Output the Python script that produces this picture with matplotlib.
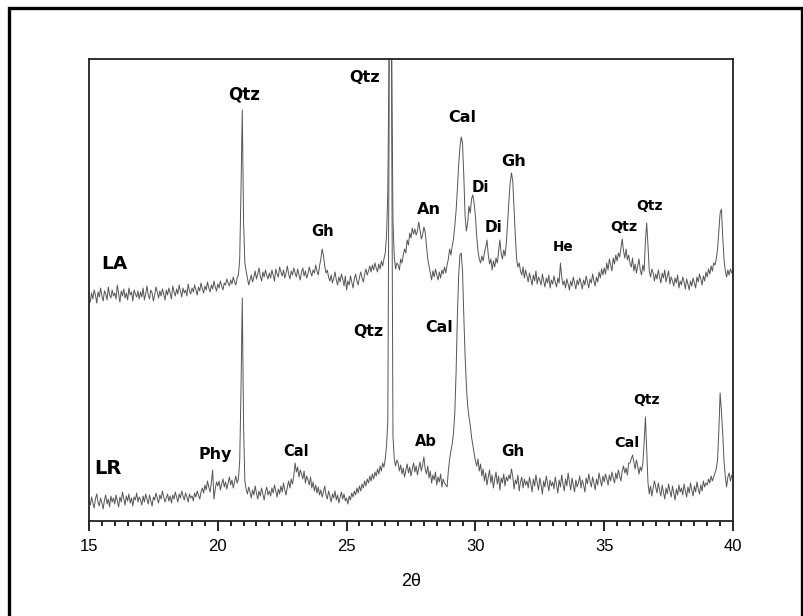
import numpy as np
import matplotlib
matplotlib.use("Agg")
import matplotlib.pyplot as plt
from matplotlib.patches import Rectangle
from matplotlib.ticker import MultipleLocator

# ---- data (2theta grid, 0.05 deg step, intensities in arbitrary units) ----
two_theta = np.round(np.arange(15.0, 40.0001, 0.05), 2)

la_counts = [
    224, 219, 228, 222, 231, 226, 218, 229, 224, 233, 225, 220, 230, 227, 221, 234, 226, 223, 231, 225,
    228, 222, 236, 227, 219, 230, 225, 232, 223, 228, 221, 233, 226, 229, 220, 231, 227, 224, 230, 222,
    229, 224, 233, 221, 227, 235, 226, 222, 231, 228, 220, 226, 234, 229, 223, 230, 225, 232, 227, 221,
    231, 226, 233, 228, 222, 235, 229, 225, 232, 227, 236, 230, 224, 233, 228, 231, 225, 237, 230, 227,
    233, 229, 236, 231, 226, 234, 230, 238, 232, 228, 235, 231, 239, 233, 229, 236, 232, 240, 234, 230,
    237, 233, 240, 235, 231, 238, 236, 242, 238, 235, 241, 237, 244, 239, 236, 243, 246, 262, 330, 411,
    300, 258, 250, 243, 236, 241, 246, 239, 244, 250, 242, 247, 253, 245, 240, 249, 244, 251, 246, 242,
    248, 243, 251, 246, 240, 252, 247, 244, 254, 249, 245, 251, 243, 248, 255, 247, 242, 250, 246, 253,
    248, 244, 252, 246, 241, 249, 253, 245, 250, 243, 247, 254, 249, 245, 251, 248, 256, 250, 246, 255,
    262, 272, 266, 255, 248, 251, 244, 240, 246, 238, 243, 249, 241, 236, 244, 239, 247, 242, 235, 245,
    231, 240, 236, 245, 239, 233, 242, 247, 240, 236, 244, 249, 243, 239, 247, 252, 246, 250, 255, 249,
    256, 251, 258, 253, 249, 257, 252, 260, 255, 262, 268, 285, 330, 470, 1800, 470, 300, 264, 252, 258,
    256, 251, 262, 258, 266, 272, 268, 281, 276, 288, 283, 293, 287, 292, 286, 290, 299, 291, 282, 286,
    294, 289, 276, 262, 255, 248, 241, 250, 244, 252, 246, 241, 249, 243, 251, 247, 254, 248, 256, 262,
    272, 266, 275, 282, 295, 310, 332, 356, 374, 384, 378, 345, 305, 290, 298, 315, 308, 322, 326, 318,
    305, 285, 270, 262, 258, 265, 260, 268, 274, 281, 266, 257, 262, 251, 260, 254, 263, 258, 270, 281,
    268, 262, 271, 265, 278, 298, 320, 338, 348, 340, 312, 285, 262, 254, 258, 250, 246, 254, 243, 251,
    245, 239, 248, 242, 236, 246, 240, 250, 237, 244, 241, 236, 247, 240, 234, 243, 238, 246, 233, 241,
    237, 245, 239, 234, 243, 238, 258, 244, 236, 240, 233, 242, 237, 231, 240, 235, 244, 238, 232, 241,
    236, 243, 238, 232, 241, 236, 245, 239, 233, 242, 238, 247, 240, 235, 244, 239, 249, 243, 252, 246,
    253, 247, 258, 251, 262, 256, 250, 263, 257, 266, 260, 268, 264, 273, 282, 270, 263, 272, 261, 266,
    258, 254, 263, 250, 257, 248, 255, 262, 251, 246, 256, 250, 280, 298, 275, 250, 244, 252, 248, 240,
    247, 242, 251, 244, 238, 248, 243, 251, 239, 245, 250, 237, 244, 240, 235, 243, 238, 246, 233, 240,
    236, 244, 239, 232, 242, 237, 231, 240, 235, 243, 238, 233, 244, 239, 247, 242, 236, 245, 240, 249,
    244, 252, 247, 255, 250, 258, 256, 262, 272, 290, 308, 312, 285, 262, 250, 244, 251, 246, 252, 248,
    250,
]

lr_counts = [
    20, 16, 24, 18, 13, 22, 27, 19, 15, 23, 18, 12, 21, 26, 17, 22, 14, 25, 19, 23,
    17, 26, 20, 14, 24, 19, 29, 22, 16, 25, 20, 27, 18, 23, 15, 24, 21, 28, 19, 24,
    21, 16, 25, 19, 27, 22, 17, 26, 20, 15, 24, 21, 28, 23, 18, 26, 22, 30, 24, 19,
    23, 27, 20, 25, 18, 26, 22, 29, 24, 19, 27, 23, 30, 25, 21, 28, 24, 19, 27, 23,
    25, 20, 28, 24, 30, 26, 22, 29, 33, 28, 36, 31, 40, 34, 29, 38, 51, 22, 32, 39,
    35, 40, 31, 37, 42, 34, 39, 32, 38, 44, 36, 41, 33, 39, 45, 38, 42, 60, 130, 223,
    95, 40, 32, 27, 34, 29, 23, 31, 26, 35, 28, 22, 30, 25, 33, 27, 21, 29, 34, 26,
    30, 25, 33, 28, 36, 30, 24, 32, 27, 35, 29, 38, 31, 26, 34, 40, 33, 42, 37, 45,
    58, 49, 54, 44, 51, 47, 42, 50, 38, 45, 41, 36, 44, 33, 39, 30, 36, 28, 34, 26,
    31, 24, 29, 35, 26, 22, 30, 25, 19, 27, 23, 30, 21, 26, 18, 24, 29, 22, 27, 20,
    23, 17, 25, 21, 28, 24, 30, 26, 33, 28, 35, 30, 37, 33, 40, 35, 42, 38, 45, 40,
    47, 42, 49, 45, 52, 47, 55, 50, 58, 54, 62, 75, 100, 400, 1500, 400, 85, 62, 55, 61,
    58, 50, 56, 47, 53, 44, 51, 57, 48, 54, 45, 52, 58, 49, 55, 46, 53, 59, 50, 56,
    64, 52, 47, 55, 43, 50, 38, 46, 41, 49, 36, 44, 39, 47, 34, 42, 38, 36, 34, 50,
    62, 70, 77, 88, 108, 148, 205, 245, 266, 268, 250, 205, 165, 135, 115, 104, 96, 84, 76, 68,
    60, 55, 62, 50, 57, 45, 52, 40, 48, 36, 44, 51, 38, 46, 33, 42, 49, 37, 45, 31,
    43, 38, 47, 35, 44, 40, 46, 42, 52, 45, 32, 41, 37, 46, 30, 39, 44, 33, 42, 36,
    40, 33, 44, 37, 29, 42, 35, 46, 38, 31, 43, 36, 27, 40, 34, 45, 38, 30, 41, 35,
    39, 32, 44, 36, 28, 41, 34, 46, 37, 30, 42, 35, 48, 39, 31, 43, 36, 29, 41, 34,
    38, 45, 33, 41, 36, 29, 43, 37, 47, 40, 34, 44, 38, 31, 42, 36, 48, 41, 35, 45,
    39, 47, 42, 36, 46, 40, 49, 43, 38, 48, 42, 51, 45, 40, 50, 55, 48, 53, 46, 58,
    58, 62, 66, 59, 52, 61, 55, 47, 54, 50, 58, 78, 104, 70, 38, 27, 35, 25, 33, 40,
    34, 28, 38, 31, 25, 36, 29, 22, 33, 27, 37, 30, 24, 35, 28, 21, 32, 26, 36, 29,
    33, 26, 37, 30, 24, 34, 28, 38, 31, 25, 35, 29, 39, 32, 27, 36, 30, 40, 34, 38,
    36, 42, 38, 45, 40, 44, 48, 52, 61, 90, 128, 110, 88, 60, 45, 34, 44, 48, 40, 46,
    42,
]

# phase labels: (text, 2theta, intensity, fontsize)
la_labels = [
    ("LA", 15.97, 257, 13.3),
    ("Qtz", 21.02, 427, 12),
    ("Gh", 24.08, 289, 10.6),
    ("Qtz", 25.71, 444, 11.5),
    ("An", 28.20, 312, 11.6),
    ("Cal", 29.48, 404, 11.5),
    ("Di", 30.18, 334, 10.8),
    ("Di", 30.72, 294, 11.0),
    ("Gh", 31.50, 359, 11.6),
    ("He", 33.40, 274, 9.8),
    ("Qtz", 35.77, 294, 10.3),
    ("Qtz", 36.74, 315, 10.0),
]
lr_labels = [
    ("LR", 15.74, 53, 14),
    ("Phy", 19.89, 66, 11.4),
    ("Cal", 23.02, 69, 10.5),
    ("Qtz", 25.83, 189, 11.3),
    ("Ab", 28.08, 79, 10.5),
    ("Cal", 28.59, 194, 11.4),
    ("Gh", 31.46, 69, 10.9),
    ("Cal", 35.88, 78, 10.4),
    ("Qtz", 36.66, 121, 10.0),
]

x_ticks = [15, 20, 25, 30, 35, 40]
x_label = "2θ"

# ---- figure ----
W, H = 804, 616
fig = plt.figure(figsize=(W / 100, H / 100), dpi=100)
fig.patch.set_facecolor("white")

# outer frame
fig.patches.append(Rectangle((9 / W, -0.05), (802 - 9) / W, 1.05 - 8 / H,
                             transform=fig.transFigure, fill=False,
                             edgecolor="black", linewidth=2.4))

ax = fig.add_axes([89 / W, 1 - 521 / H, (733 - 89) / W, (521 - 59) / H])
ax.plot(two_theta, la_counts, color="#555555", lw=0.7)
ax.plot(two_theta, lr_counts, color="#555555", lw=0.7)

ax.set_xlim(15, 40)
ax.set_ylim(0, 462)
ax.set_xticks(x_ticks)
ax.xaxis.set_minor_locator(MultipleLocator(0.5))
ax.set_yticks([])
ax.tick_params(axis="x", which="major", direction="out", length=7, width=1.2,
               labelsize=12, pad=6, colors="black")
ax.tick_params(axis="x", which="minor", direction="out", length=3.5, width=1.2)
for lab in ax.get_xticklabels():
    lab.set_fontfamily("Liberation Sans")
for s in ax.spines.values():
    s.set_linewidth(1.3)
    s.set_color("#222222")

ax.set_xlabel(x_label, fontsize=13, family="Liberation Sans", labelpad=14)

for txt, xx, yy, fs in la_labels + lr_labels:
    ax.text(xx, yy, txt, ha="center", va="center", fontsize=fs,
            fontweight="bold", family="DejaVu Sans", color="black")

fig.savefig("out.png", dpi=100)
